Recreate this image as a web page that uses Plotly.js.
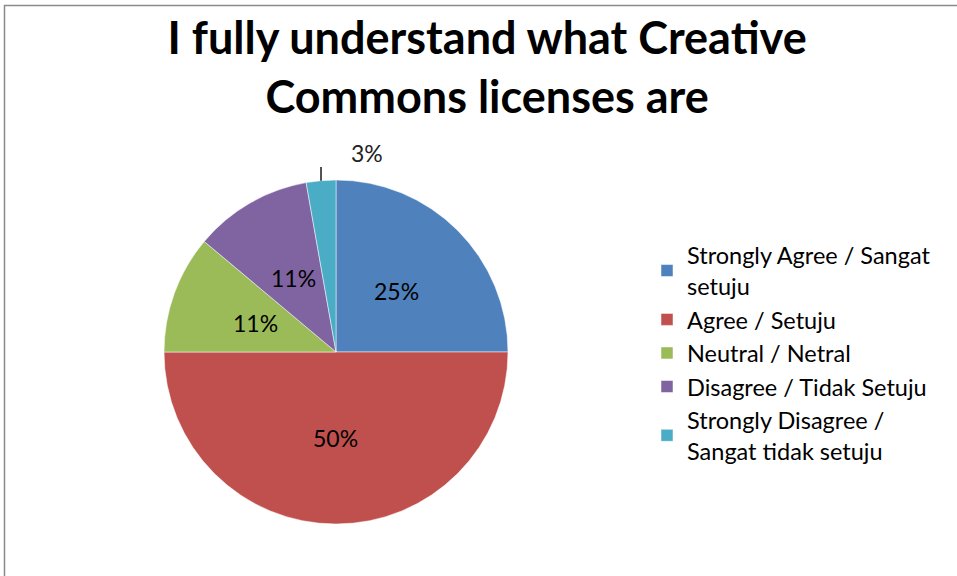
<!DOCTYPE html>
<html>
<head>
<meta charset="utf-8">
<script src="https://cdn.plot.ly/plotly-3.0.1.min.js"></script>
<style>html,body{margin:0;padding:0;background:#fff;} #chart{width:957px;height:576px;}</style>
</head>
<body>
<div id="chart"></div>
<script>
const categories = [
  "Strongly Agree / Sangat<br>setuju",
  "Agree / Setuju",
  "Neutral / Netral",
  "Disagree / Tidak Setuju",
  "Strongly Disagree /<br>Sangat tidak setuju"
];
const counts = [9, 18, 4, 4, 1];
const colors = ["#4F81BD", "#C0504D", "#9BBB59", "#8064A2", "#4BACC6"];
const titleText = "I fully understand what Creative<br>Commons licenses are";

const font = "Lato, 'Open Sans', sans-serif";
const W = 957, H = 576;
const domX = [164 / W, 508 / W];
const domY = [1 - 524 / H, 1 - 180 / H];

const total = counts.reduce((a, b) => a + b, 0);
const fracs = counts.map(v => v / total);

// Data labels placed along each slice bisector (Excel style), derived from the data
const cxPx = (domX[0] + domX[1]) / 2 * W;
const cyPx = (1 - (domY[0] + domY[1]) / 2) * H;
const R = Math.min((domX[1] - domX[0]) * W, (domY[1] - domY[0]) * H) / 2;
const annotations = [];
const shapes = [{
  type: "rect", xref: "paper", yref: "paper",
  x0: 4.5 / W, x1: 1.2, y0: -0.2, y1: 1 - 5.5 / H,
  line: { color: "#8a8a8a", width: 1.5 }
}];
let cum = 0;
fracs.forEach((f, i) => {
  const mid = (cum + f / 2) * 2 * Math.PI; // clockwise from 12 o'clock
  cum += f;
  const label = Math.round(f * 100) + "%";
  const sx = Math.sin(mid), sy = -Math.cos(mid);
  if (f >= 0.05) {
    const px = cxPx + 0.5 * R * sx, py = cyPx + 0.5 * R * sy;
    annotations.push({
      xref: "paper", yref: "paper", x: px / W, y: 1 - py / H,
      xanchor: "center", yanchor: "middle",
      text: label, showarrow: false,
      font: { family: font, size: 23, color: "#000000" }
    });
  } else {
    const ex = cxPx + R * sx, ey = cyPx + R * sy;
    const ly = cyPx + 1.08 * R * sy;
    shapes.push({
      type: "line", xref: "paper", yref: "paper",
      x0: ex / W, y0: 1 - ey / H, x1: ex / W, y1: 1 - ly / H,
      line: { color: "#1a1a1a", width: 1.5 }
    });
    annotations.push({
      xref: "paper", yref: "paper", x: ex / W, y: 1 - ly / H,
      xanchor: "center", yanchor: "middle",
      xshift: 46, yshift: 14,
      text: label, showarrow: false,
      font: { family: font, size: 23, color: "#222222" }
    });
  }
});

const trace = {
  type: "pie",
  labels: categories,
  values: counts,
  sort: false,
  direction: "clockwise",
  rotation: 0,
  marker: { colors: colors, line: { color: "#ffffff", width: 0.5 } },
  textinfo: "none",
  hoverinfo: "label+percent",
  domain: { x: domX, y: domY }
};

const layout = {
  width: W,
  height: H,
  margin: { l: 0, r: 0, t: 0, b: 0 },
  paper_bgcolor: "#ffffff",
  title: {
    text: titleText,
    font: { family: font, size: 45, color: "#000000", weight: 700 },
    x: 0.509, xanchor: "center",
    y: 1 - 54 / H, yanchor: "middle"
  },
  showlegend: true,
  legend: {
    x: 647 / W, xanchor: "left",
    y: 1 - 353 / H, yanchor: "middle",
    font: { family: font, size: 23.5, color: "#000000" },
    itemwidth: 30,
    tracegroupgap: 0
  },
  shapes: shapes,
  annotations: annotations
};

Plotly.newPlot("chart", [trace], layout, { displayModeBar: false, staticPlot: true });
</script>
</body>
</html>
